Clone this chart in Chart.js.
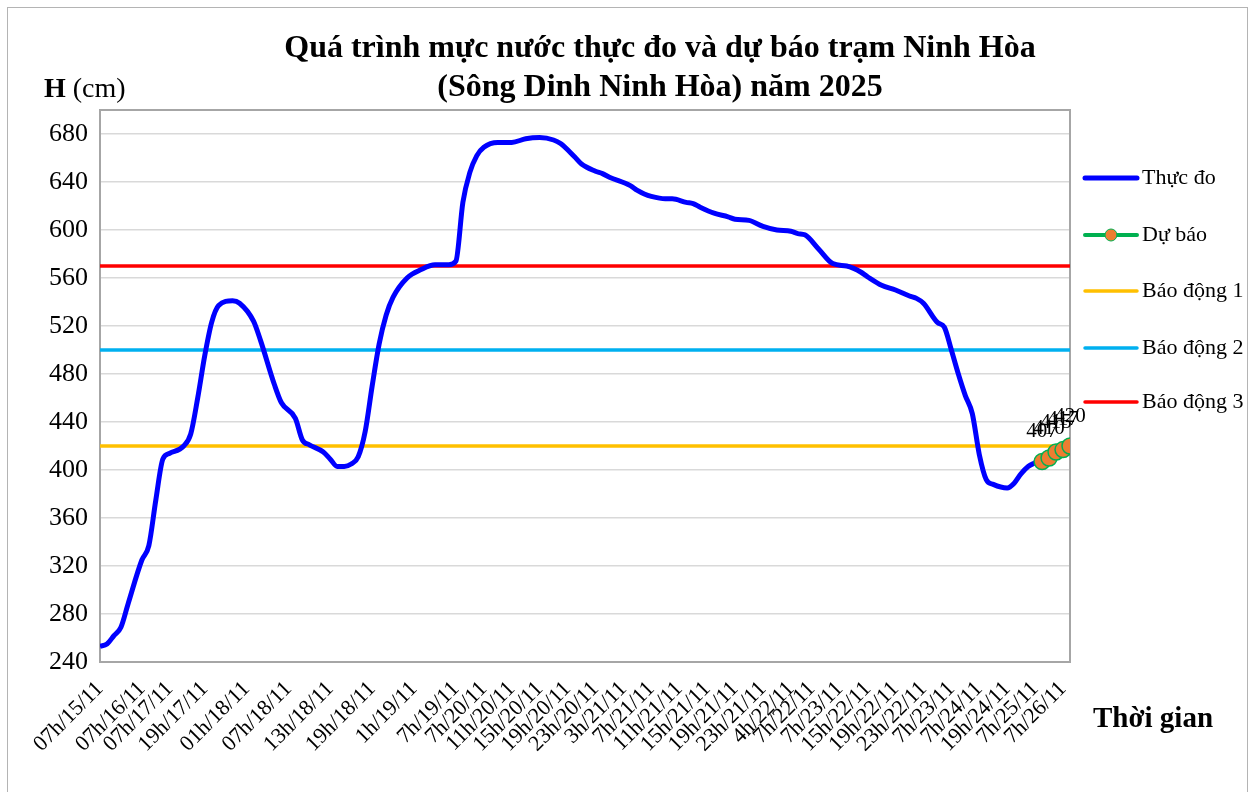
<!DOCTYPE html>
<html lang="vi">
<head>
    <meta charset="UTF-8">
    <title>Mực nước trạm Ninh Hòa 2025</title>
    <script src="https://cdn.jsdelivr.net/npm/chart.js"></script>
    <style>
        body { margin: 0; background: #fff; }
        .chart-box { width: 1255px; height: 792px; position: relative; }
    </style>
</head>
<body>
    <div class="chart-box">
        <canvas id="levelChart" width="1255" height="792"></canvas>
    </div>

    <script>
        // x = thứ tự mốc số liệu (0..139), nhãn trục chỉ đặt ở một số mốc
        const tickPositions = [0, 6, 10, 15, 21, 27, 33, 39, 45, 51, 55, 59, 63, 67, 71, 75, 79, 83, 87, 91,
            95, 99, 102, 106, 110, 114, 118, 122, 126, 130, 134, 138];
        const tickLabels = ['07h/15/11', '07h/16/11', '07h/17/11', '19h/17/11', '01h/18/11', '07h/18/11',
            '13h/18/11', '19h/18/11', '1h/19/11', '7h/19/11', '7h/20/11', '11h/20/11', '15h/20/11',
            '19h/20/11', '23h/20/11', '3h/21/11', '7h/21/11', '11h/21/11', '15h/21/11', '19h/21/11',
            '23h/21/11', '4h/22/11', '7h/22/11', '7h/23/11', '15h/22/11', '19h/22/11', '23h/22/11',
            '7h/23/11', '7h/24/11', '19h/24/11', '7h/25/11', '7h/26/11'];

        // Thực đo
        const obsIndex = [0, 1, 2, 3, 4, 6, 7, 8, 9, 10, 12, 13, 14, 15, 16, 17, 19, 20, 22, 23, 25, 26, 28, 29,
            30, 32, 33, 34, 35, 36, 37, 38, 39, 40, 41, 42, 44, 46, 48, 50, 51, 52, 53, 54, 55, 57, 59, 61, 63,
            65, 66, 68, 69, 71, 72, 73, 76, 77, 78, 79, 81, 82, 84, 85, 86, 88, 90, 91, 93, 95, 97, 99, 100, 101,
            103, 105, 107, 108, 109, 110, 112, 114, 116, 117, 118, 120, 121, 122, 123, 124, 125, 126, 127, 128,
            130, 131, 132, 133, 134];
        const obsLevel = [253, 255, 262, 269, 288, 325, 337, 375, 409, 414, 420, 430, 460, 495, 523, 537, 541,
            539, 524, 508, 471, 456, 443, 425, 421, 415, 409, 403, 403, 405, 411, 432, 470, 505, 529, 544, 560,
            567, 571, 571, 574, 623, 648, 662, 669, 673, 673, 676, 677, 675, 672, 661, 655, 649, 647, 644, 637,
            633, 630, 628, 626, 626, 623, 622, 619, 614, 611, 609, 608, 603, 600, 599, 597, 596, 584, 572, 570,
            568, 565, 561, 554, 550, 545, 543, 539, 523, 519, 500, 480, 462, 447, 413, 392, 388, 385, 389, 397,
            403, 406];

        // Dự báo
        const fcIndex = [135, 136, 137, 138, 139];
        const fcLevel = [407, 410, 415, 417, 420];

        const alarm1 = 420;
        const alarm2 = 500;
        const alarm3 = 570;
        const xFirst = 0;
        const xLast = 139;

        const serif = "'Liberation Serif', 'Times New Roman', serif";

        function toPoints(xs, ys) {
            return xs.map((x, i) => ({ x: x, y: ys[i] }));
        }

        function levelLine(value) {
            return [{ x: xFirst, y: value }, { x: xLast, y: value }];
        }

        const decorPlugin = {
            id: 'decor',
            beforeDatasetsDraw(chart) {
                const ctx = chart.ctx;
                const a = chart.chartArea;
                ctx.save();
                ctx.strokeStyle = '#a6a6a6';
                ctx.lineWidth = 2;
                ctx.strokeRect(a.left, a.top, a.right - a.left, a.bottom - a.top);
                ctx.restore();
            },
            afterDatasetsDraw(chart) {
                const ctx = chart.ctx;
                // nhãn giá trị dự báo
                const meta = chart.getDatasetMeta(1);
                ctx.save();
                ctx.fillStyle = '#000';
                ctx.font = '21px ' + serif;
                ctx.textAlign = 'center';
                ctx.textBaseline = 'middle';
                meta.data.forEach((pt, i) => {
                    ctx.fillText(String(fcLevel[i]), pt.x, pt.y - 30);
                });
                ctx.restore();
            },
            afterDraw(chart) {
                const ctx = chart.ctx;
                ctx.save();

                // khung ngoài
                ctx.strokeStyle = '#b4b4b4';
                ctx.lineWidth = 1;
                ctx.strokeRect(7.5, 7.5, 1240, 800);

                ctx.fillStyle = '#000';
                ctx.textBaseline = 'middle';

                // tiêu đề
                ctx.font = 'bold 32px ' + serif;
                ctx.textAlign = 'center';
                ctx.fillText('Quá trình mực nước thực đo và dự báo trạm Ninh Hòa', 660, 49);
                ctx.fillText('(Sông Dinh Ninh Hòa) năm 2025', 660, 88);

                // tên trục
                ctx.textAlign = 'left';
                ctx.font = 'bold 28px ' + serif;
                ctx.fillText('H', 44, 90);
                const hw = ctx.measureText('H ').width;
                ctx.font = '28px ' + serif;
                ctx.fillText('(cm)', 44 + hw, 90);

                ctx.font = 'bold 29px ' + serif;
                ctx.fillText('Thời gian', 1093, 720);

                // chú giải
                const rows = [178, 235, 291, 348, 402];
                ctx.font = '22px ' + serif;
                chart.data.datasets.forEach((ds, i) => {
                    const y = rows[i];
                    ctx.strokeStyle = ds.borderColor;
                    ctx.lineWidth = ds.borderWidth;
                    ctx.lineCap = 'round';
                    ctx.beginPath();
                    ctx.moveTo(1085, y);
                    ctx.lineTo(1137, y);
                    ctx.stroke();
                    if (ds.pointRadius > 0) {
                        ctx.beginPath();
                        ctx.arc(1111, y, 6, 0, Math.PI * 2);
                        ctx.fillStyle = ds.pointBackgroundColor;
                        ctx.fill();
                        ctx.lineWidth = 1;
                        ctx.strokeStyle = ds.pointBorderColor;
                        ctx.stroke();
                    }
                    ctx.fillStyle = '#000';
                    ctx.fillText(ds.label, 1142, y);
                });
                ctx.restore();
            }
        };

        function setupChart() {
            const ctx = document.getElementById('levelChart').getContext('2d');
            return new Chart(ctx, {
                type: 'line',
                data: {
                    datasets: [
                        {
                            label: 'Thực đo',
                            data: toPoints(obsIndex, obsLevel),
                            borderColor: '#0000ff',
                            borderWidth: 5,
                            pointRadius: 0,
                            cubicInterpolationMode: 'monotone',
                            order: 1
                        },
                        {
                            label: 'Dự báo',
                            data: toPoints(fcIndex, fcLevel),
                            borderColor: '#00b050',
                            borderWidth: 4,
                            pointRadius: 8,
                            pointBackgroundColor: '#ed7d31',
                            pointBorderColor: '#00b050',
                            pointBorderWidth: 1.5,
                            order: 0
                        },
                        {
                            label: 'Báo động 1',
                            data: levelLine(alarm1),
                            borderColor: '#ffc000',
                            borderWidth: 3.5,
                            pointRadius: 0,
                            order: 2
                        },
                        {
                            label: 'Báo động 2',
                            data: levelLine(alarm2),
                            borderColor: '#00b0f0',
                            borderWidth: 3.5,
                            pointRadius: 0,
                            order: 2
                        },
                        {
                            label: 'Báo động 3',
                            data: levelLine(alarm3),
                            borderColor: '#ff0000',
                            borderWidth: 3.5,
                            pointRadius: 0,
                            order: 2
                        }
                    ]
                },
                options: {
                    responsive: false,
                    animation: false,
                    layout: {
                        padding: { top: 110, right: 185, left: 0, bottom: 0 }
                    },
                    scales: {
                        x: {
                            type: 'linear',
                            min: xFirst,
                            max: xLast,
                            afterBuildTicks: (scale) => {
                                scale.ticks = tickPositions.map(v => ({ value: v }));
                            },
                            afterFit: (scale) => { scale.height = 130; },
                            grid: { display: false, drawTicks: false },
                            border: { display: true, color: '#a6a6a6', width: 2 },
                            ticks: {
                                autoSkip: false,
                                minRotation: 45,
                                maxRotation: 45,
                                padding: 14,
                                color: '#000',
                                font: { family: serif, size: 22 },
                                callback: (value) => {
                                    const k = tickPositions.indexOf(value);
                                    return k >= 0 ? tickLabels[k] : '';
                                }
                            }
                        },
                        y: {
                            min: 240,
                            max: 700,
                            afterFit: (scale) => { scale.width = 100; },
                            grid: { color: '#d9d9d9', lineWidth: 1.5, drawTicks: false },
                            border: { display: true, color: '#a6a6a6', width: 2 },
                            ticks: {
                                stepSize: 40,
                                includeBounds: false,
                                padding: 12,
                                color: '#000',
                                font: { family: serif, size: 26 }
                            }
                        }
                    },
                    plugins: {
                        legend: { display: false },
                        title: { display: false },
                        tooltip: { enabled: false }
                    }
                },
                plugins: [decorPlugin]
            });
        }

        setupChart();
    </script>
</body>
</html>
